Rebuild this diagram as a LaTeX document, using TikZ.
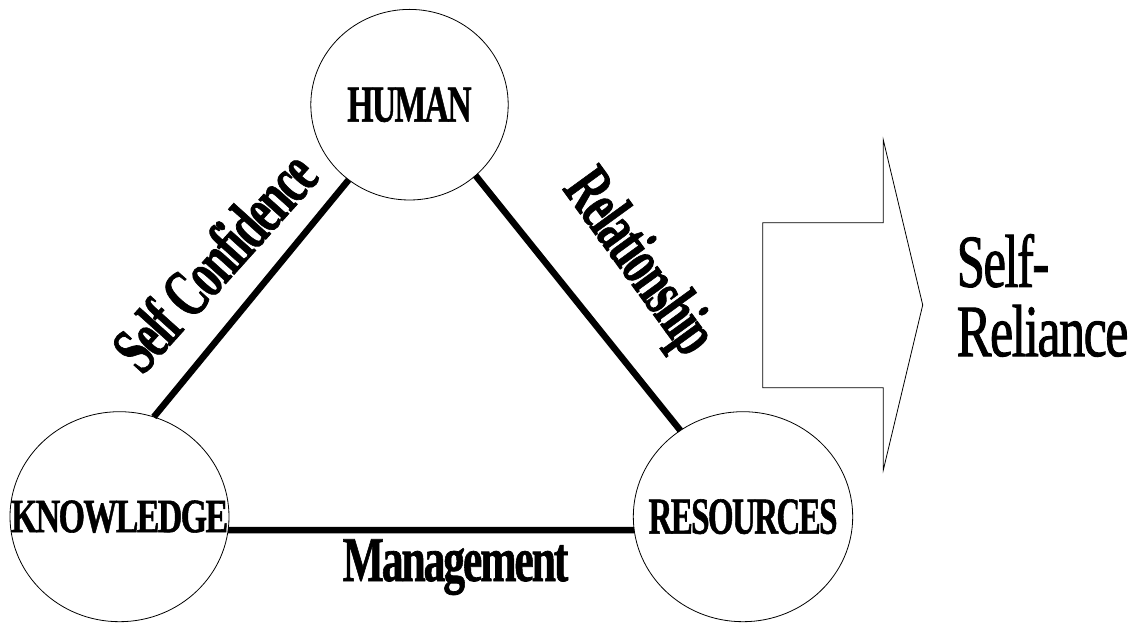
\documentclass[tikz,border=0pt]{standalone}
\usepackage{fontspec}
\setmainfont{Liberation Serif}
\newfontfamily\heavyfont[UprightFont={* Bold},FakeBold=1.2,LetterSpace=-5]{Liberation Serif}
\newfontfamily\tightfont[FakeBold=1.5,LetterSpace=-3]{Liberation Serif}
\usepackage{graphicx}
\usetikzlibrary{shapes.geometric}
\newcommand{\fitbold}[3]{\resizebox{#1pt}{#2pt}{\heavyfont #3}}
\newcommand{\fitreg}[3]{\resizebox{#1pt}{#2pt}{\tightfont #3}}
\tikzset{
  ring/.style={ellipse, draw=black, line width=0.8pt, inner sep=0pt, outer sep=0pt},
  conn/.style={draw=black, line width=6.5pt},
  lbl/.style={inner sep=0pt, outer sep=0pt, text=black},
  blockarrow/.style={draw=black, line width=0.8pt, fill=white}
}
\begin{document}
\begin{tikzpicture}[x=1pt, y=1pt]
\useasboundingbox (0,0) rectangle (1139,624);
% circles
\node[ring, minimum width=197.4pt, minimum height=190.6pt,
      label={[lbl]center:\fitbold{124.3}{34.3}{HUMAN}}] (human) at (409.5,519.3) {};
\node[ring, minimum width=219pt, minimum height=210pt,
      label={[lbl]center:\fitbold{217.3}{31.7}{KNOWLEDGE}}] (know) at (119.5,107.3) {};
\node[ring, minimum width=219.4pt, minimum height=210pt,
      label={[lbl]center:\fitbold{189}{34.4}{RESOURCES}}] (res) at (743,107.3) {};
% connectors
\draw[conn] (know.71.5) -- (human.231.7);
\draw[conn] (human.313.5) -- (res.126.2);
\draw[conn] (know.-7.8) -- (res.187.8);
% edge labels
\node[lbl, rotate=48] (lconf) at (214,363)
  {\scalebox{0.64}[1]{\fontsize{69}{69}\selectfont\heavyfont Self Confidence}};
\node[lbl, rotate=-54] (lrel) at (637,360)
  {\scalebox{0.63}[1]{\fontsize{69}{69}\selectfont\heavyfont Relationship}};
\node[lbl, anchor=base west] (lman) at (342.7,43) {\fitbold{225.6}{41.7}{Management}};
% block arrow
\draw[blockarrow] (762.7,401.3) -- (883.3,401.3) -- (883.3,484) -- (922.7,319)
  -- (883.3,154) -- (883.3,236.3) -- (762.7,236.3) -- cycle;
% result text
\node[lbl, anchor=base west] (sr1) at (956.7,337.3) {\fitreg{92.6}{52.5}{Self-}};
\node[lbl, anchor=base west] (sr2) at (956.7,268) {\fitreg{171.6}{51}{Reliance}};
\end{tikzpicture}
\end{document}
